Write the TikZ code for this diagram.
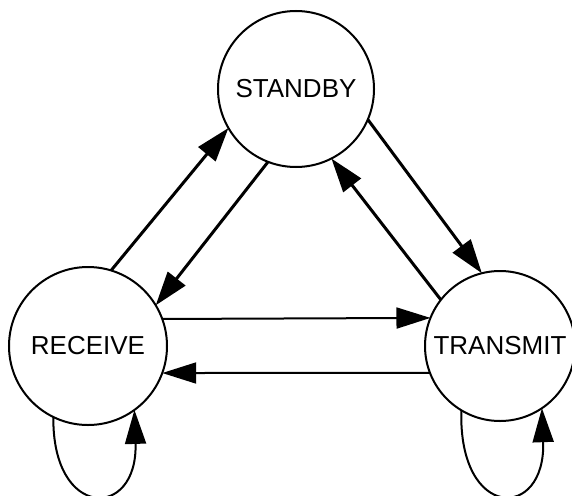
\documentclass[tikz,border=0pt]{standalone}
\usepackage{fontspec}
\setmainfont{Liberation Sans}
\usetikzlibrary{arrows.meta}
\begin{document}
\begin{tikzpicture}[x=1pt,y=-1pt,
  state/.style={draw, circle, line width=2pt, inner sep=0pt, outer sep=0pt, font=\fontsize{26}{28}\selectfont},
  thick arrow/.style={line width=3pt, -{Triangle[length=34pt,width=22pt]}},
  thin arrow/.style={line width=2pt, -{Triangle[length=34pt,width=21pt]}}]
\useasboundingbox (0,0) rectangle (572,495);
\clip (0,0) rectangle (572,495);
\node[state, minimum size=156pt] (standby) at (296,89) {STANDBY};
\node[state, minimum size=158pt] (receive) at (88,346) {RECEIVE};
\node[state, minimum size=150pt] (transmit) at (500,346) {TRANSMIT};
% diagonals
\draw[thick arrow] (receive.73) -- (standby.210);
\draw[thick arrow] (standby.249) -- (receive.31);
\draw[thick arrow] (standby.337) -- (transmit.104);
\draw[thick arrow] (transmit.142) -- (standby.297);
% horizontals
\draw[thin arrow] (receive.20) -- (transmit.158.9);
\draw[thin arrow] (transmit.201.1) -- (receive.-20);
% self loops
\draw[thin arrow] (receive.244) .. controls (52,520) and (138,520) .. (receive.-54);
\draw[thin arrow] (transmit.239.5) .. controls (458,521) and (546,521) .. (transmit.-56);
\end{tikzpicture}
\end{document}
